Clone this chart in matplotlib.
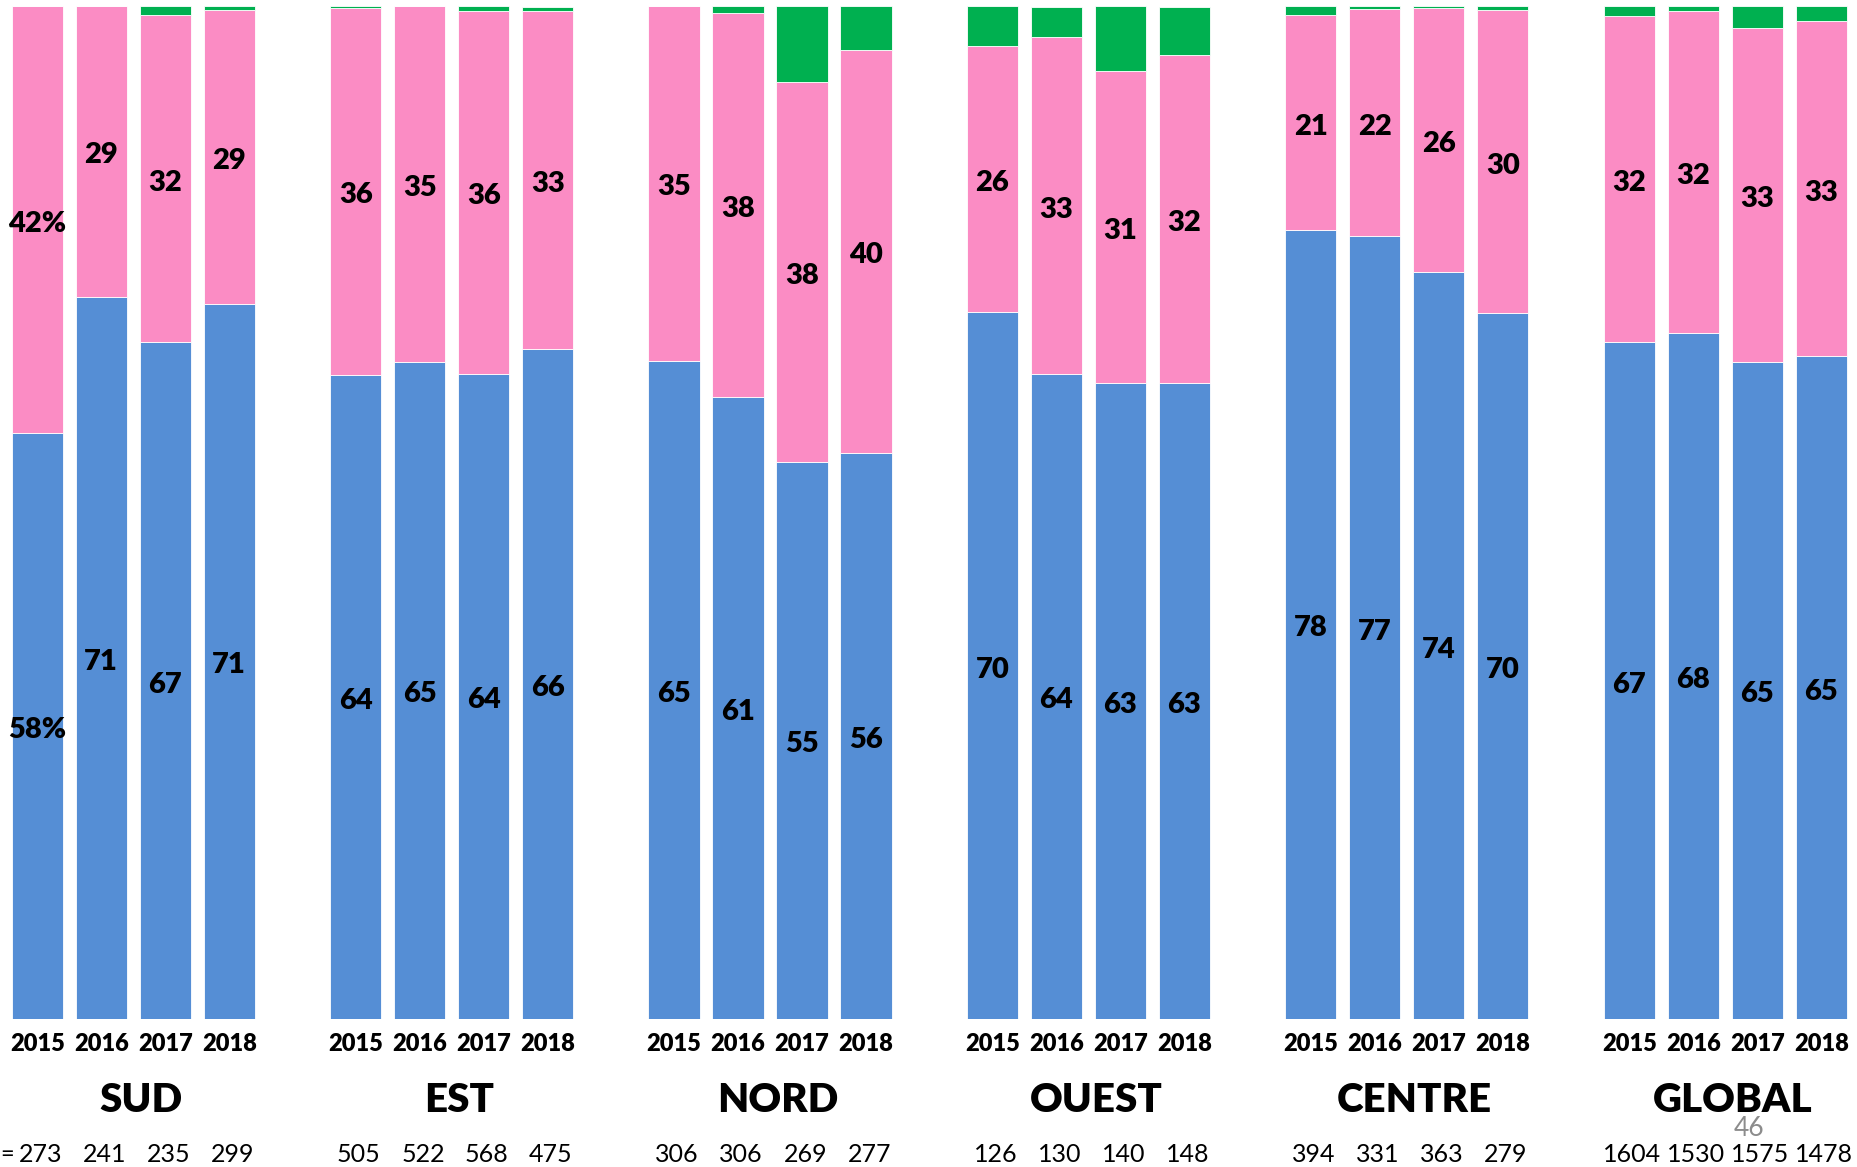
# Anteile pro Region und Jahr, gestapelt (blau / rosa / grün)

import numpy as np
import matplotlib.pyplot as plt

plt.rcParams['font.family'] = ['Lato', 'DejaVu Sans']

# Daten
regionen = ['SUD', 'EST', 'NORD', 'OUEST', 'CENTRE', 'GLOBAL']
jahre = ['2015', '2016', '2017', '2018']

blau = [
    [57.8, 71.3, 66.8, 70.6],   # SUD
    [63.6, 64.9, 63.7, 66.1],   # EST
    [65.0, 61.4, 55.0, 55.9],   # NORD
    [69.8, 63.7, 62.8, 62.8],   # OUEST
    [77.9, 77.3, 73.7, 69.7],   # CENTRE
    [66.8, 67.7, 64.9, 65.4],   # GLOBAL
]
rosa = [
    [42.2, 28.7, 32.3, 29.0],
    [36.2, 35.1, 35.8, 33.4],
    [35.0, 37.9, 37.5, 39.8],
    [26.2, 33.2, 30.8, 32.4],
    [21.2, 22.4, 26.1, 29.9],
    [32.2, 31.8, 32.9, 33.1],
]
gruen = [
    [0.0, 0.0, 0.9, 0.4],
    [0.2, 0.0, 0.5, 0.4],
    [0.0, 0.7, 7.5, 4.3],
    [4.0, 3.0, 6.4, 4.7],
    [0.9, 0.3, 0.2, 0.4],
    [1.0, 0.5, 2.2, 1.5],
]
n_werte = [
    [273, 241, 235, 299],
    [505, 522, 568, 475],
    [306, 306, 269, 277],
    [126, 130, 140, 148],
    [394, 331, 363, 279],
    [1604, 1530, 1575, 1478],
]

farbe_blau = '#558ED5'
farbe_rosa = '#FB8CC4'
farbe_gruen = '#00B050'

fig = plt.figure(figsize=(18.58, 11.67), dpi=100)
ax = fig.add_axes([0, 0.1268, 1, 0.8681])

gruppen_abstand = 4.975

for g, region in enumerate(regionen):
    x = g * gruppen_abstand + np.arange(len(jahre))
    b = np.array(blau[g])
    r = np.array(rosa[g])
    gr = np.array(gruen[g])
    ax.bar(x, b, width=0.8, color=farbe_blau, edgecolor='white', linewidth=0.6)
    ax.bar(x, r, width=0.8, bottom=b, color=farbe_rosa, edgecolor='white', linewidth=0.6)
    ax.bar(x, gr, width=0.8, bottom=b + r, color=farbe_gruen, edgecolor='white', linewidth=0.6)

    for i in range(len(jahre)):
        suffix = '%' if (g == 0 and i == 0) else ''
        ax.text(x[i], b[i] / 2 - 0.4, f'{round(b[i])}{suffix}', ha='center', va='center',
                fontsize=21, fontweight='heavy')
        ax.text(x[i], b[i] + r[i] / 2 - 0.4, f'{round(r[i])}{suffix}', ha='center', va='center',
                fontsize=21, fontweight='heavy')
        # Jahr und n unter den Balken
        ax.text(x[i], -0.025, jahre[i], transform=ax.get_xaxis_transform(),
                ha='center', va='center', fontsize=17, fontweight='heavy', clip_on=False)
        ax.text(x[i] + 0.05, -0.1335, str(n_werte[g][i]), transform=ax.get_xaxis_transform(),
                ha='center', va='center', fontsize=18, clip_on=False)

    # Regionsname
    ax.text(x.mean() + 0.12, -0.080, region, transform=ax.get_xaxis_transform(),
            ha='center', va='center', fontsize=29, fontweight='heavy', clip_on=False)

# "=" links (Rest von "n =")
ax.text(-0.583, -0.1335, '=', transform=ax.get_xaxis_transform(),
        ha='left', va='center', fontsize=17, clip_on=False)

# Seitenzahl
ax.text(26.75, -0.108, '46', transform=ax.get_xaxis_transform(),
        ha='center', va='center', fontsize=19, color='#8C8C8C', clip_on=False)

ax.set_xlim(-0.583, 28.45)
ax.set_ylim(0, 100)
ax.axis('off')

plt.savefig('out.png', dpi=100)
